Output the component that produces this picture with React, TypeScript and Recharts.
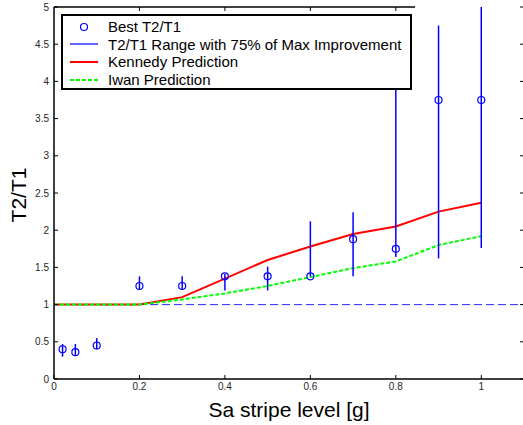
import React from 'react';

import {
    ComposedChart,
    ErrorBar,
    Label,
    Legend,
    Line,
    ReferenceLine,
    Scatter,
    XAxis,
    YAxis,
} from 'recharts';

// stripe levels with a best-ratio estimate and its 75% range
const stripeLevels = [0.02, 0.05, 0.1, 0.2, 0.3, 0.4, 0.5, 0.6, 0.7, 0.8, 0.9, 1.0];
const bestRatio = [0.4, 0.36, 0.45, 1.25, 1.25, 1.38, 1.38, 1.38, 1.88, 1.75, 3.75, 3.75];
const rangeLow = [0.3, 0.31, 0.4, 1.2, 1.2, 1.19, 1.19, 1.38, 1.38, 1.64, 1.62, 1.76];
const rangeHigh = [0.47, 0.47, 0.55, 1.38, 1.38, 1.41, 1.51, 2.12, 2.24, 4.5, 4.75, 5.0];

// prediction curves
const predLevels = [0, 0.1, 0.2, 0.3, 0.4, 0.5, 0.6, 0.7, 0.8, 0.9, 1.0];
const kennedy = [1, 1, 1, 1.1, 1.35, 1.6, 1.78, 1.95, 2.05, 2.25, 2.37];
const iwan = [1, 1, 1, 1.07, 1.15, 1.25, 1.37, 1.49, 1.58, 1.8, 1.92];

const xTicks = [0, 0.2, 0.4, 0.6, 0.8, 1];
const topTicks = [0.2, 0.4, 0.6, 0.8];
const yTicks = [0, 0.5, 1, 1.5, 2, 2.5, 3, 3.5, 4, 4.5, 5];

const seriesNames = [
    'Best T2/T1',
    'T2/T1 Range with 75% of Max Improvement',
    'Kennedy Prediction',
    'Iwan Prediction',
];

const bestData = stripeLevels.map((x, i) => ({
    x,
    y: bestRatio[i],
    err: [bestRatio[i] - rangeLow[i], rangeHigh[i] - bestRatio[i]],
}));
const kennedyData = predLevels.map((x, i) => ({ x, y: kennedy[i] }));
const iwanData = predLevels.map((x, i) => ({ x, y: iwan[i] }));

const FONT = '"Liberation Sans", Arial, Helvetica, sans-serif';
const BLUE = '#0000ff';
const tickStyle = { fontSize: 10, fill: '#262626', fontFamily: FONT };

// mirrored axes only show tick marks
const noLabel = () => <g />;

const LegendIcon = ({ i }: { i: number }) => (
    <svg width={28} height={10} style={{ display: 'block' }}>
        {i === 0 && <circle cx={14} cy={5} r={3.5} fill="none" stroke={BLUE} strokeWidth={1.2} />}
        {i === 1 && <line x1={0} x2={28} y1={5} y2={5} stroke={BLUE} strokeWidth={1.2} />}
        {i === 2 && <line x1={0} x2={28} y1={5} y2={5} stroke="#ff0000" strokeWidth={2} />}
        {i === 3 && (
            <line x1={0} x2={28} y1={5} y2={5} stroke="#00ff00" strokeWidth={2} strokeDasharray="4 2" />
        )}
    </svg>
);

const renderLegend = () => (
    <div
        style={{
            boxSizing: 'border-box',
            width: 351,
            height: 76,
            border: '2px solid #000',
            background: '#fff',
            paddingTop: 2,
            fontFamily: FONT,
            fontSize: 15,
            color: '#000',
        }}
    >
        {seriesNames.map((name, i) => (
            <div key={name} style={{ display: 'flex', alignItems: 'center', height: 17.6 }}>
                <div style={{ marginLeft: 7, width: 28 }}>
                    <LegendIcon i={i} />
                </div>
                <span style={{ marginLeft: 10, whiteSpace: 'nowrap' }}>{name}</span>
            </div>
        ))}
    </div>
);

const renderYLabel = (props: any) => {
    const vb = props.viewBox;
    const cx = vb.x + 18;
    const cy = vb.y + vb.height / 2 + 2;
    return (
        <text
            x={cx}
            y={cy}
            transform={`rotate(-90, ${cx}, ${cy})`}
            textAnchor="middle"
            dominantBaseline="central"
            fontSize={21}
            fontFamily={FONT}
            fill="#000"
        >
            T2/T1
        </text>
    );
};

export default function App() {
    return (
        <div style={{ position: 'absolute', left: 0, top: 0, width: 523, height: 425, overflow: 'hidden' }}>
            <ComposedChart width={527} height={425} margin={{ top: 6, right: 2, bottom: 0, left: 0 }}>
                <XAxis
                    dataKey="x"
                    type="number"
                    domain={[0, 1.1]}
                    allowDataOverflow
                    ticks={xTicks}
                    height={46}
                    tickSize={-4}
                    tickMargin={8}
                    tick={tickStyle}
                    axisLine={{ stroke: '#000', strokeWidth: 1.5 }}
                    tickLine={{ stroke: '#000' }}
                >
                    <Label
                        value="Sa stripe level [g]"
                        position="insideBottom"
                        offset={8}
                        style={{ fontSize: 21, fontFamily: FONT, fill: '#000' }}
                    />
                </XAxis>
                <XAxis
                    xAxisId="top"
                    orientation="top"
                    dataKey="x"
                    type="number"
                    domain={[0, 1.1]}
                    allowDataOverflow
                    ticks={topTicks}
                    height={1}
                    tick={noLabel}
                    tickSize={-4}
                    axisLine={false}
                    tickLine={{ stroke: '#000' }}
                />
                <YAxis
                    dataKey="y"
                    type="number"
                    domain={[0, 5]}
                    ticks={yTicks}
                    width={54}
                    tickSize={-4}
                    tickMargin={9}
                    tick={tickStyle}
                    axisLine={{ stroke: '#000', strokeWidth: 1.5 }}
                    tickLine={{ stroke: '#000' }}
                >
                    <Label content={renderYLabel} />
                </YAxis>
                <YAxis
                    yAxisId="right"
                    orientation="right"
                    dataKey="y"
                    type="number"
                    domain={[0, 5]}
                    allowDataOverflow
                    ticks={yTicks}
                    width={1}
                    tick={noLabel}
                    tickSize={-4}
                    axisLine={false}
                    tickLine={{ stroke: '#000' }}
                />
                <ReferenceLine
                    segment={[
                        { x: 0, y: 5 },
                        { x: 0.845, y: 5 },
                    ]}
                    stroke="#000"
                    strokeWidth={1.5}
                />
                <ReferenceLine y={1} stroke="#2a2aff" strokeDasharray="8 4" strokeWidth={1} />
                <Line
                    isAnimationActive={false}
                    data={kennedyData}
                    dataKey="y"
                    name="Kennedy Prediction"
                    type="linear"
                    dot={false}
                    stroke="#ff0000"
                    strokeWidth={2}
                />
                <Line
                    isAnimationActive={false}
                    data={iwanData}
                    dataKey="y"
                    name="Iwan Prediction"
                    type="linear"
                    dot={false}
                    stroke="#00ff00"
                    strokeWidth={2}
                    strokeDasharray="4 2"
                />
                <Scatter
                    isAnimationActive={false}
                    data={bestData}
                    dataKey="y"
                    name="Best T2/T1"
                    shape={(p: any) => (
                        <circle cx={p.cx} cy={p.cy} r={3.5} fill="none" stroke={BLUE} strokeWidth={1.2} />
                    )}
                >
                    <ErrorBar
                        dataKey="err"
                        direction="y"
                        width={0}
                        stroke={BLUE}
                        strokeWidth={1.5}
                        isAnimationActive={false}
                    />
                </Scatter>
                <Legend
                    layout="vertical"
                    align="center"
                    verticalAlign="middle"
                    wrapperStyle={{ left: 61, top: 14, width: 351, height: 76 }}
                    content={renderLegend}
                />
            </ComposedChart>
        </div>
    );
}
